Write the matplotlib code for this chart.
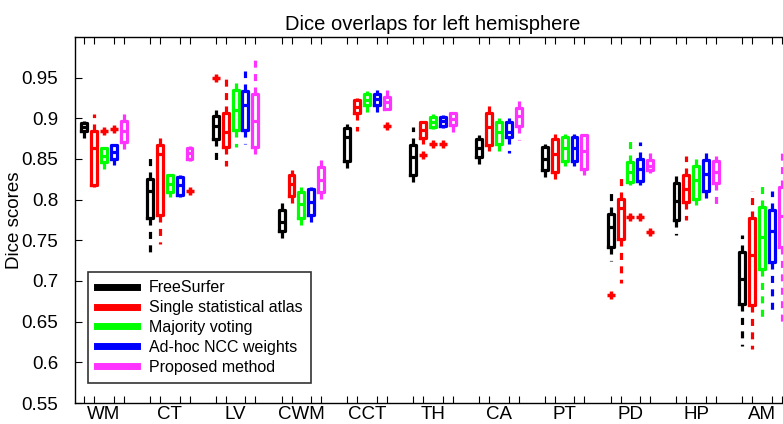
import matplotlib
matplotlib.use("Agg")
import matplotlib.pyplot as plt
from matplotlib.lines import Line2D
import numpy as np

plt.rcParams["font.family"] = ["Liberation Sans", "DejaVu Sans"]

# regions (x tick labels)
regions = ["WM", "CT", "LV", "CWM", "CCT", "TH", "CA", "PT", "PD", "HP", "AM"]

# each entry: (whisker low, q1, median, q3, whisker high)
freesurfer = [(0.876, 0.885, 0.889, 0.894, 0.897), (0.733, 0.777, 0.811, 0.826, 0.851),
              (0.846, 0.875, 0.890, 0.903, 0.910), (0.748, 0.762, 0.773, 0.787, 0.797),
              (0.832, 0.848, 0.877, 0.888, 0.893), (0.819, 0.830, 0.852, 0.867, 0.889),
              (0.840, 0.852, 0.864, 0.875, 0.879), (0.828, 0.836, 0.850, 0.865, 0.868),
              (0.725, 0.742, 0.766, 0.782, 0.810), (0.757, 0.775, 0.798, 0.820, 0.834),
              (0.620, 0.672, 0.703, 0.736, 0.756)]
single_atlas = [(0.815, 0.818, 0.864, 0.885, 0.905), (0.745, 0.781, 0.856, 0.867, 0.876),
                (0.842, 0.865, 0.883, 0.906, 0.954), (0.789, 0.804, 0.819, 0.830, 0.837),
                (0.885, 0.906, 0.914, 0.922, 0.925), (0.869, 0.876, 0.886, 0.895, 0.897),
                (0.860, 0.867, 0.889, 0.906, 0.917), (0.824, 0.834, 0.856, 0.875, 0.881),
                (0.697, 0.752, 0.790, 0.801, 0.828), (0.775, 0.797, 0.813, 0.830, 0.854),
                (0.617, 0.670, 0.732, 0.777, 0.811)]
majority = [(0.838, 0.846, 0.854, 0.863, 0.865), (0.803, 0.809, 0.819, 0.830, 0.832),
            (0.865, 0.886, 0.910, 0.935, 0.950), (0.768, 0.778, 0.795, 0.809, 0.815),
            (0.903, 0.916, 0.923, 0.930, 0.934), (0.887, 0.889, 0.896, 0.902, 0.905),
            (0.854, 0.869, 0.883, 0.895, 0.900), (0.842, 0.848, 0.863, 0.877, 0.881),
            (0.818, 0.822, 0.834, 0.846, 0.875), (0.793, 0.801, 0.824, 0.842, 0.856),
            (0.650, 0.715, 0.754, 0.791, 0.822)]
adhoc_ncc = [(0.843, 0.850, 0.858, 0.867, 0.869), (0.803, 0.806, 0.818, 0.828, 0.830),
             (0.869, 0.886, 0.916, 0.934, 0.958), (0.770, 0.781, 0.797, 0.813, 0.815),
             (0.906, 0.916, 0.924, 0.930, 0.935), (0.888, 0.891, 0.897, 0.902, 0.904),
             (0.857, 0.877, 0.883, 0.895, 0.900), (0.842, 0.848, 0.864, 0.877, 0.881),
             (0.818, 0.823, 0.838, 0.850, 0.871), (0.801, 0.811, 0.832, 0.849, 0.864),
             (0.664, 0.723, 0.762, 0.787, 0.811)]
proposed = [(0.861, 0.871, 0.885, 0.897, 0.906), (0.848, 0.850, 0.857, 0.863, 0.866),
            (0.850, 0.865, 0.897, 0.930, 0.975), (0.800, 0.809, 0.824, 0.840, 0.850),
            (0.910, 0.912, 0.920, 0.926, 0.935), (0.879, 0.892, 0.899, 0.906, 0.908),
            (0.873, 0.891, 0.903, 0.913, 0.925), (0.830, 0.838, 0.860, 0.879, 0.881),
            (0.833, 0.836, 0.842, 0.849, 0.865), (0.793, 0.820, 0.834, 0.848, 0.854),
            (0.645, 0.742, 0.780, 0.815, 0.857)]

# outliers per method, per region
out_freesurfer = [[], [], [0.949], [], [], [], [], [], [0.6825], [], []]
out_single = [[], [], [], [], [], [0.855], [], [], [], [], []]
out_majority = [[0.885], [], [], [], [], [0.869], [], [], [0.7786], [], []]
out_adhoc = [[0.887], [], [], [], [], [0.869], [], [], [0.7786], [], []]
out_proposed = [[], [0.811], [], [], [0.891], [], [], [], [0.760], [], []]

methods = ["FreeSurfer", "Single statistical atlas", "Majority voting",
           "Ad-hoc NCC weights", "Proposed method"]
colors = ["#000000", "#ff0000", "#00ff00", "#0000ff", "#ff33ff"]
all_stats = [freesurfer, single_atlas, majority, adhoc_ncc, proposed]
all_out = [out_freesurfer, out_single, out_majority, out_adhoc, out_proposed]

fig = plt.figure(figsize=(7.83, 4.24), dpi=100)
# axes run past the right edge of the picture, like the cropped original
ax = fig.add_axes([75 / 783, 1 - 403 / 424, (791 - 75) / 783, (403 - 37) / 424])

centers = np.arange(1, len(regions) + 1)
step = 0.15
lw = 2.3
dash = (0, (2.2, 2.0))
box_pos = []

for j, (stats, outs, c) in enumerate(zip(all_stats, all_out, colors)):
    pos = centers + (j - 2) * step
    box_pos.extend(pos)
    bx = []
    for s, o in zip(stats, outs):
        bx.append(dict(whislo=s[0], q1=s[1], med=s[2], q3=s[3], whishi=s[4], fliers=o))
    ax.bxp(bx, positions=pos, widths=0.09, showcaps=False, patch_artist=False,
           boxprops=dict(color=c, lw=lw),
           medianprops=dict(color=c, lw=lw),
           whiskerprops=dict(color=c, lw=lw, linestyle=dash),
           flierprops=dict(marker="+", markeredgecolor="#ff0000", markersize=6,
                           markeredgewidth=2.5, linestyle="none"),
           manage_ticks=False)

ax.set_xlim(0.56, 11.44)
ax.set_ylim(0.55, 1.0)
yt = np.arange(0.55, 0.951, 0.05)
ax.set_yticks(yt)
ax.set_yticklabels([f"{v:g}" for v in np.round(yt, 2)], fontsize=13.5)
ax.set_xticks(centers)
ax.set_xticklabels(regions, fontsize=13.5)
ax.set_xticks(box_pos, minor=True)
ax.tick_params(axis="x", which="major", length=0, pad=2)
ax.tick_params(axis="x", which="minor", direction="in", length=5, top=True, width=0.8)
ax.tick_params(axis="y", direction="in", length=5, right=False, width=0.8, pad=12)
for sp in ax.spines.values():
    sp.set_linewidth(1.0)

ax.set_title("Dice overlaps for left hemisphere", fontsize=14.5, pad=5)
ax.set_ylabel("Dice scores", fontsize=13.5, labelpad=-1)

handles = [Line2D([0], [0], color=c, lw=5) for c in colors]
leg = ax.legend(handles, methods, loc="lower left", bbox_to_anchor=(0.007, 0.032),
                fontsize=11.5, frameon=True, fancybox=False, handlelength=2.5,
                labelspacing=0.3, borderpad=0.55, handletextpad=0.75)
leg.get_frame().set_edgecolor("black")
leg.get_frame().set_linewidth(1.2)

fig.savefig("out.png", dpi=100)
